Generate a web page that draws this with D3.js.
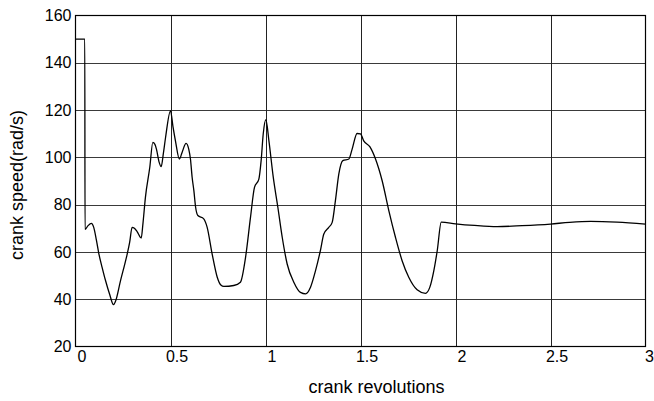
<!DOCTYPE html>
<html>
<head>
<meta charset="utf-8">
<script src="https://cdn.jsdelivr.net/npm/d3@7"></script>
<style>
  html, body { margin: 0; padding: 0; background: #fff; }
  svg { display: block; }
  text { font-family: "Liberation Sans", Arial, sans-serif; fill: #000; }
</style>
</head>
<body>
<svg id="chart" width="654" height="401"></svg>
<script>
// ---- data ----
const revs = [0, 0.049, 0.05, 0.065, 0.083, 0.096, 0.11, 0.123, 0.14, 0.158, 0.18, 0.2, 0.21, 0.237, 0.268, 0.285, 0.298, 0.31, 0.325, 0.346, 0.355, 0.368, 0.391, 0.407, 0.418, 0.426, 0.44, 0.451, 0.463, 0.474, 0.5, 0.513, 0.526, 0.547, 0.561, 0.582, 0.596, 0.605, 0.614, 0.623, 0.632, 0.644, 0.675, 0.693, 0.719, 0.746, 0.765, 0.781, 0.833, 0.868, 0.895, 0.921, 0.942, 0.965, 0.977, 0.988, 1.002, 1.018, 1.041, 1.065, 1.088, 1.114, 1.149, 1.184, 1.211, 1.237, 1.263, 1.289, 1.307, 1.333, 1.351, 1.368, 1.386, 1.407, 1.439, 1.456, 1.482, 1.5, 1.517, 1.549, 1.579, 1.614, 1.649, 1.684, 1.719, 1.754, 1.798, 1.842, 1.865, 1.886, 1.904, 1.925, 2.0, 2.1, 2.219, 2.35, 2.5, 2.6, 2.711, 2.85, 3.0];
const speed = [150, 150, 69.5, 71, 72.1, 70.4, 65, 59.2, 53.5, 47.9, 42, 37.7, 39, 47.9, 57.7, 64, 70.4, 70, 68.5, 65.9, 72, 83.1, 95.8, 106.3, 105.5, 103.5, 98, 96.1, 102, 108.4, 119.7, 113, 107, 99.3, 102.1, 105.9, 103.5, 99.3, 91.5, 85.9, 79, 75.4, 74, 70.4, 59.2, 49.3, 46, 45.4, 45.8, 47.2, 57.7, 74.6, 87.3, 90.8, 98.6, 109.9, 115.9, 107, 91.5, 78.9, 66.2, 54.9, 47.2, 42.9, 42.3, 45.1, 52, 60.6, 67.6, 70.4, 72.5, 81.7, 93, 98.6, 99.3, 103.5, 110.1, 109.9, 107, 104.5, 99.3, 90.1, 77.5, 66.2, 56.3, 49.3, 44, 42.5, 45.1, 52.1, 60.6, 72.6, 71.9, 71.2, 70.7, 71.1, 71.8, 72.5, 72.9, 72.6, 71.8];
const xTicks = [0, 0.5, 1, 1.5, 2, 2.5, 3];
const xTickLabels = ["0", "0.5", "1", "1.5", "2", "2.5", "3"];
const yTicks = [20, 40, 60, 80, 100, 120, 140, 160];
const yTickLabels = ["20", "40", "60", "80", "100", "120", "140", "160"];
const xLabel = "crank revolutions";
const yLabel = "crank speed(rad/s)";

// ---- layout ----
const pLeft = 75.5, pRight = 645.5, pTop = 15.5, pBottom = 346.5;
const svg = d3.select("#chart");
const x = d3.scaleLinear().domain([0, 3]).range([pLeft, pRight]);
const y = d3.scaleLinear().domain([20, 160]).range([pBottom, pTop]);

// grid
const grid = svg.append("g");
grid.selectAll("line.h").data(yTicks.slice(1, -1)).enter().append("line")
  .attr("x1", pLeft).attr("x2", pRight)
  .attr("y1", d => Math.round(y(d)) + 0.5).attr("y2", d => Math.round(y(d)) + 0.5)
  .attr("stroke", "#3a3a3a").attr("stroke-width", 1);
grid.selectAll("line.v").data(xTicks.slice(1, -1)).enter().append("line")
  .attr("y1", pTop).attr("y2", pBottom)
  .attr("x1", d => Math.round(x(d)) + 0.5).attr("x2", d => Math.round(x(d)) + 0.5)
  .attr("stroke", "#222").attr("stroke-width", 1);

// box
svg.append("rect").attr("x", pLeft).attr("y", pTop)
  .attr("width", pRight - pLeft).attr("height", pBottom - pTop)
  .attr("fill", "none").attr("stroke", "#000").attr("stroke-width", 1.2);

// axes tick labels
const xAxis = d3.axisBottom(x).tickValues(xTicks).tickSize(0).tickPadding(4)
  .tickFormat((d, i) => xTickLabels[i]);
const gx = svg.append("g").attr("transform", `translate(0,${pBottom})`).call(xAxis);
gx.select(".domain").remove();
gx.selectAll("text").attr("font-size", 16)
  .attr("dx", (d, i) => i === xTicks.length - 1 ? 3.5 : 6)
  .attr("font-family", "Liberation Sans, Arial, sans-serif").attr("fill", "#000");

const yAxis = d3.axisLeft(y).tickValues(yTicks).tickSize(0).tickPadding(4)
  .tickFormat((d, i) => yTickLabels[i]);
const gy = svg.append("g").attr("transform", `translate(${pLeft},0)`).call(yAxis);
gy.select(".domain").remove();
gy.selectAll("text").attr("font-size", 16)
  .attr("font-family", "Liberation Sans, Arial, sans-serif").attr("fill", "#000");

// axis labels
svg.append("text").attr("x", (pLeft + pRight) / 2 + 16).attr("y", 393)
  .attr("text-anchor", "middle").attr("font-size", 18).text(xLabel);
svg.append("text")
  .attr("transform", `translate(23,${(pTop + pBottom) / 2 + 4}) rotate(-90)`)
  .attr("text-anchor", "middle").attr("font-size", 18).text(yLabel);

// line
const pts = revs.map((r, i) => [r, speed[i]]);
svg.append("path").datum(pts)
  .attr("fill", "none").attr("stroke", "#000").attr("stroke-width", 1.3)
  .attr("stroke-linejoin", "round")
  .attr("d", d3.line().curve(d3.curveMonotoneX).x(d => x(d[0])).y(d => y(d[1])));
</script>
</body>
</html>
